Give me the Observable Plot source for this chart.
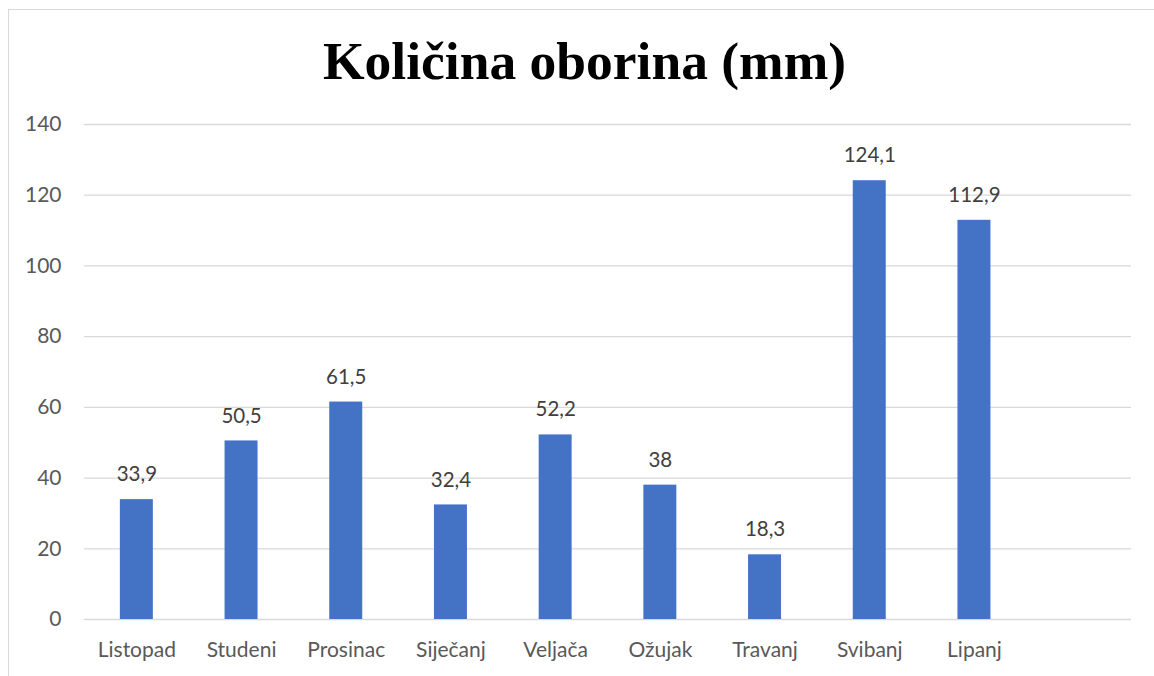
<!DOCTYPE html>
<html>
<head>
<meta charset="utf-8">
<script src="https://cdn.jsdelivr.net/npm/d3@7"></script>
<script src="https://cdn.jsdelivr.net/npm/@observablehq/plot@0.6"></script>
<style>
  html, body { margin: 0; padding: 0; background: #fff; }
  #wrap { position: relative; width: 1154px; height: 676px; overflow: hidden; }
  #frame { position: absolute; left: 8px; top: 9px; width: 1200px; height: 700px;
           border-top: 1px solid #d9d9d9; border-left: 1px solid #d9d9d9; box-sizing: border-box; }
  #title { position: absolute; left: 0; width: 1169px; top: 26px; text-align: center;
           font-family: "Liberation Serif", "Times New Roman", serif; font-weight: bold;
           font-size: 53.5px; line-height: 70px; color: #000; }
  #chart { position: absolute; left: 0; top: 0; }
</style>
</head>
<body>
<div id="wrap">
  <div id="frame"></div>
  <div id="chart"></div>
  <div id="title">Količina oborina (mm)</div>
</div>
<script>
const months = ["Listopad", "Studeni", "Prosinac", "Siječanj", "Veljača", "Ožujak", "Travanj", "Svibanj", "Lipanj", ""];
const rainfall = [33.9, 50.5, 61.5, 32.4, 52.2, 38, 18.3, 124.1, 112.9];
const yTicks = [0, 20, 40, 60, 80, 100, 120, 140];

const data = rainfall.map((v, i) => ({month: months[i], value: v}));
const fmt = v => String(v).replace(".", ",");

const chart = Plot.plot({
  width: 1154,
  height: 676,
  marginLeft: 84,
  marginRight: 23,
  marginTop: 124,
  marginBottom: 57,
  style: {fontFamily: "Lato, sans-serif", fontSize: "21px", background: "transparent"},
  x: {domain: months, paddingInner: 0.685, paddingOuter: 0.3425, round: false, label: null},
  y: {domain: [0, 140], label: null},
  marks: [
    Plot.ruleY(yTicks, {stroke: "#d9d9d9", strokeWidth: 1.3}),
    Plot.barY(data, {x: "month", y: "value", fill: "#4472c4"}),
    Plot.text(data, {x: "month", y: "value", text: d => fmt(d.value), dy: -25,
      fill: "#404040", fontSize: 20.5, lineAnchor: "middle"}),
    Plot.axisY(yTicks, {tickSize: 0, tickPadding: 23, fontSize: 21, color: "#595959", label: null}),
    Plot.axisX({tickSize: 0, tickPadding: 23, fontSize: 21, color: "#595959", label: null})
  ]
});
document.getElementById("chart").appendChild(chart);
</script>
</body>
</html>
